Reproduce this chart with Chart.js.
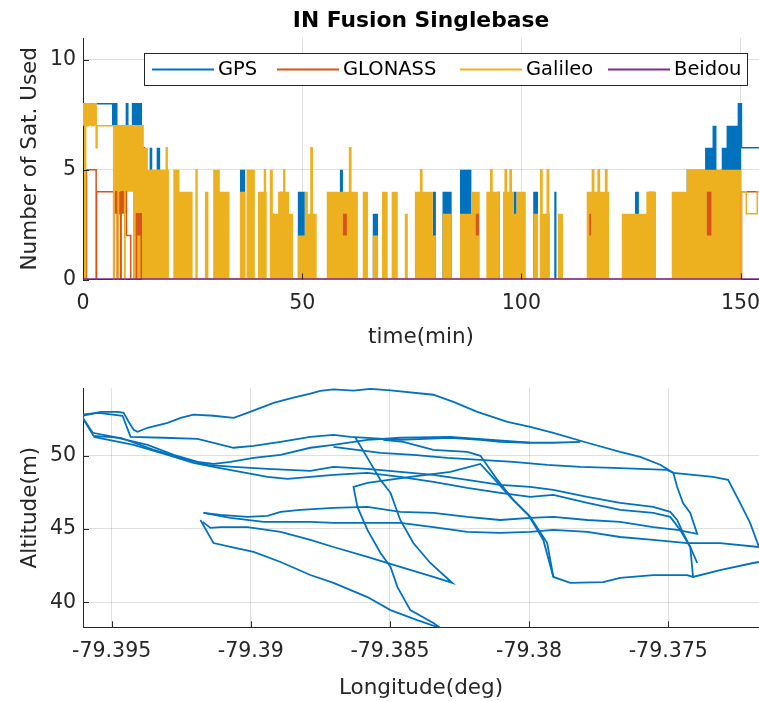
<!DOCTYPE html>
<html><head><meta charset="utf-8">
<script src="https://cdn.jsdelivr.net/npm/chart.js@4.4.1/dist/chart.umd.min.js"></script>
<style>
html,body{margin:0;padding:0;background:#fff;}
#wrap{position:relative;width:759px;height:701px;overflow:hidden;background:#fff;}
canvas{position:absolute;left:0;}
#c1{top:0;} #c2{top:350px;}
</style></head><body>
<div id="wrap"><canvas id="c1" width="759" height="350"></canvas><canvas id="c2" width="759" height="351"></canvas></div>
<script>
// ---------- labels & ticks ----------
const chartTitle = 'IN Fusion Singlebase';
const systems = ['GPS', 'GLONASS', 'Galileo', 'Beidou'];
const sysColors = ['#0072BD', '#D95319', '#EDB120', '#7E2F8E'];
const timeTicks = [0, 50, 100, 150];
const satTicks = [0, 5, 10];
const lonTicks = [-79.395, -79.39, -79.385, -79.38, -79.375];
const lonTickLabels = ['-79.395', '-79.39', '-79.385', '-79.38', '-79.375'];
const altTicks = [40, 45, 50];

// ---------- top: satellites used (stairs change points, minutes) ----------
const gpsStepT = [0, 7.0, 7.3, 7.7, 8.9, 9.2, 9.9, 10.2, 11.3, 13.3, 13.6, 14.0, 14.3, 149.5, 150.2, 154.2];
const gpsStepV = [8, 7, 8, 7, 6, 7, 8, 7, 8, 5, 6, 5, 0, 8, 6, 6];
const gloStepT = [0, 0.8, 3.0, 3.1, 7.0, 7.1, 7.8, 7.9, 8.6, 8.7, 9.9, 10.9, 12.2, 13.3, 150.2, 154.2];
const gloStepV = [0, 5, 0, 4, 0, 4, 0, 3, 0, 4, 2, 0, 3, 0, 4, 4];
const galStepT = [0, 0.4, 0.6, 1.0, 1.3, 2.0, 2.4, 3.0, 3.2, 7.0, 7.1, 8.0, 8.1, 9.5, 9.6, 13.7, 19.0, 19.2, 25.8, 26.0, 41.4, 41.6, 45.8, 46.0, 52.0, 52.3, 60.8, 61.1, 77.0, 77.3, 93.0, 93.3, 96.3, 96.6, 97.4, 97.7, 104.4, 104.7, 105.9, 106.2, 116.2, 116.5, 117.5, 117.8, 119.2, 119.5, 150.2, 151.3, 153.8, 154.2];
const galStepV = [8, 0, 8, 7, 8, 7, 8, 6, 7, 0, 7, 0, 7, 0, 7, 0, 6, 0, 5, 0, 5, 0, 5, 0, 6, 0, 6, 0, 5, 0, 5, 0, 5, 0, 5, 0, 5, 0, 5, 0, 5, 0, 5, 0, 5, 0, 4, 3, 4, 4];
const bdsStepT = [0, 154.2];
const bdsStepV = [0, 0];

// dense switching periods (start, end, upper level, lower level)
const gpsBlkStart = [6.6, 9.9, 11.3, 15.2, 16.8, 35.8, 43.0, 45.0, 49.0, 58.6, 66.1, 79.8, 82.0, 86.0, 94.6, 98.3, 102.7, 107.5, 125.9, 129.0, 137.7, 141.9, 143.6, 145.7, 146.8, 149.5];
const gpsBlkEnd   = [7.6, 10.3, 13.3, 15.8, 17.6, 37.0, 43.6, 45.5, 50.6, 59.3, 67.3, 80.5, 84.1, 88.6, 95.1, 98.9, 103.8, 108.0, 126.8, 130.5, 141.9, 143.6, 144.5, 146.8, 149.5, 150.2];
const gpsBlkTop   = [8, 8, 8, 6, 6, 5, 3, 4, 4, 5, 3, 4, 4, 5, 4, 4, 4, 4, 4, 4, 5, 6, 7, 6, 7, 8];
const gpsBlkBase  = [7, 6, 7, 5, 5, 0, 0, 0, 0, 0, 0, 0, 0, 0, 0, 0, 0, 0, 0, 0, 0, 0, 0, 0, 0, 0];

const gloBlkStart = [7.0, 12.2, 59.3, 89.6, 115.5, 142.3];
const gloBlkEnd   = [9.9, 13.3, 60.2, 90.3, 115.9, 143.4];
const gloBlkTop   = [4, 3, 3, 3, 3, 4];
const gloBlkBase  = [3, 2, 2, 2, 2, 2];

const galBlkStart = [0.0, 7.2, 11.4, 13.7, 14.8, 20.6, 22.0, 27.8, 29.7, 31.2, 35.8, 37.3, 39.9, 42.6, 43.3, 44.5, 47.0, 49.0, 50.6, 51.3, 55.6, 63.8, 66.1, 68.2, 70.4, 73.4, 75.7, 79.8, 82.0, 86.0, 88.6, 92.0, 95.8, 98.3, 98.9, 102.7, 104.2, 108.3, 114.9, 122.9, 128.5, 134.3, 137.7];
const galBlkEnd   = [3.1, 11.4, 13.7, 14.8, 19.6, 22.0, 25.0, 28.6, 31.2, 33.4, 37.0, 39.2, 41.9, 43.3, 44.5, 47.0, 47.9, 50.6, 51.3, 53.3, 62.7, 65.0, 67.3, 69.5, 71.8, 74.1, 79.8, 80.5, 84.1, 88.6, 90.5, 95.1, 98.3, 98.9, 101.0, 103.8, 106.5, 109.5, 120.0, 128.5, 130.7, 137.7, 150.2];
const galBlkTop   = [8, 7, 7, 6, 5, 5, 4, 4, 5, 4, 4, 5, 4, 5, 3, 4, 3, 2, 4, 3, 4, 4, 2, 4, 4, 3, 4, 2, 3, 3, 4, 4, 4, 3, 4, 3, 3, 3, 4, 3, 4, 4, 5];
const galBlkBase  = [7, 4, 0, 0, 0, 0, 0, 0, 0, 0, 0, 0, 0, 0, 0, 0, 0, 0, 0, 0, 0, 0, 0, 0, 0, 0, 0, 0, 0, 0, 0, 0, 0, 0, 0, 0, 0, 0, 0, 0, 0, 0, 0];

// ---------- bottom: trajectory strokes (longitude deg, altitude m) ----------
const lonA = [-79.39601, -79.39540, -79.39478, -79.39457, -79.39439, -79.39421, -79.39407, -79.39371, -79.39299, -79.39252, -79.39206, -79.39134, -79.39062, -79.39012, -79.38918, -79.38847, -79.38786, -79.38750, -79.38703, -79.38631, -79.38570, -79.38498, -79.38344, -79.38272, -79.38186, -79.38078, -79.37996, -79.37913, -79.37791, -79.37673, -79.37601, -79.37529, -79.37482, -79.37468, -79.37447, -79.37421, -79.37396, -79.37468, -79.37554, -79.37673, -79.37791, -79.37913, -79.37996, -79.38104, -79.38222, -79.38344, -79.38463, -79.38581, -79.38703, -79.38822, -79.38893, -79.38940, -79.39012, -79.39109, -79.39170];
const altA = [52.71, 52.98, 52.98, 52.91, 52.30, 51.75, 51.62, 51.89, 52.23, 52.57, 52.78, 52.71, 52.57, 52.91, 53.59, 53.94, 54.22, 54.40, 54.50, 54.42, 54.54, 54.44, 54.14, 53.66, 52.98, 52.30, 51.96, 51.55, 50.87, 50.25, 49.91, 49.37, 48.82, 47.86, 46.77, 46.09, 44.66, 44.93, 45.13, 45.48, 45.61, 45.82, 45.75, 45.61, 45.82, 46.09, 46.16, 46.50, 46.43, 46.30, 46.16, 45.89, 45.82, 45.96, 46.09];
const lonB = [-79.39170, -79.39073, -79.38954, -79.38786, -79.38703, -79.38581, -79.38463, -79.38344, -79.38222, -79.38104, -79.37996, -79.37913, -79.37791, -79.37673, -79.37554, -79.37432, -79.37314, -79.37174];
const altB = [46.09, 45.75, 45.48, 45.48, 45.41, 45.41, 45.41, 45.13, 44.80, 44.73, 44.80, 44.93, 44.80, 44.45, 44.25, 44.04, 44.04, 43.77];
const lonC = [-79.39173, -79.39145, -79.39109, -79.39012, -79.38893, -79.38786, -79.38703, -79.38581, -79.38463, -79.38344, -79.38276, -79.38355, -79.38416, -79.38463, -79.38498, -79.38534, -79.38581, -79.38624];
const altC = [45.48, 45.07, 45.13, 45.13, 44.80, 44.25, 43.77, 43.09, 42.41, 41.73, 41.32, 42.68, 44.04, 45.61, 47.46, 48.34, 49.84, 51.21];
const lonD = [-79.39181, -79.39155, -79.39134, -79.39073, -79.38990, -79.38893, -79.38786, -79.38703, -79.38581, -79.38498, -79.38402, -79.38319];
const altD = [45.61, 44.73, 44.04, 43.77, 43.43, 42.75, 41.86, 41.32, 40.36, 39.47, 38.79, 38.25];
const lonE = [-79.38319, -79.38344, -79.38427, -79.38473, -79.38498, -79.38534, -79.38581, -79.38617, -79.38631, -79.38581, -79.38427, -79.38283, -79.38175, -79.38129, -79.38068, -79.38003, -79.37949, -79.37913, -79.37852, -79.37734, -79.37673, -79.37554, -79.37432, -79.37411, -79.37314, -79.37195, -79.37174];
const altE = [38.25, 38.59, 39.47, 41.04, 42.41, 43.36, 44.93, 46.50, 47.86, 48.14, 48.55, 48.89, 49.43, 48.48, 47.18, 45.96, 44.25, 41.73, 41.32, 41.38, 41.66, 41.86, 41.86, 41.73, 42.20, 42.68, 42.75];
const lonF = [-79.39611, -79.39547, -79.39461, -79.39432, -79.39313, -79.39191, -79.39062, -79.38990, -79.38893, -79.38786, -79.38703, -79.38642, -79.38463, -79.38283, -79.38175, -79.38104, -79.37996, -79.37913, -79.37816];
const altF = [52.78, 52.91, 52.71, 51.27, 51.21, 51.14, 50.53, 50.66, 50.93, 51.27, 51.41, 51.27, 51.07, 51.21, 51.07, 50.93, 50.87, 50.87, 50.93];
const lonG = [-79.38524, -79.38452, -79.38344, -79.38222, -79.38175, -79.38114, -79.38057, -79.37996, -79.37935, -79.37913];
const altG = [51.07, 50.93, 50.39, 50.25, 49.98, 48.34, 46.98, 45.82, 44.04, 41.73];
const lonH = [-79.39611, -79.39565, -79.39468, -79.39349, -79.39252, -79.39155, -79.39062, -79.38940, -79.38786, -79.38703, -79.38581, -79.38463, -79.38344, -79.38222, -79.38104, -79.37996, -79.37913, -79.37791, -79.37673, -79.37554, -79.37493, -79.37468, -79.37447, -79.37421, -79.37411];
const altH = [52.78, 51.34, 51.21, 50.39, 49.84, 49.37, 49.23, 49.09, 48.96, 49.23, 49.09, 48.89, 48.68, 48.34, 48.00, 47.86, 47.66, 47.18, 46.77, 46.50, 46.16, 45.61, 44.73, 43.77, 41.73];
const lonI = [-79.39565, -79.39421, -79.39299, -79.39206, -79.39134, -79.39037, -79.38940, -79.38868, -79.38786, -79.38703, -79.38581, -79.38463, -79.38344, -79.38222, -79.38104, -79.37996, -79.37913, -79.37791, -79.37673, -79.37554, -79.37493, -79.37457, -79.37421, -79.37396];
const altI = [51.27, 50.73, 50.05, 49.50, 49.23, 48.89, 48.55, 48.41, 48.55, 48.68, 48.82, 48.55, 48.21, 47.80, 47.46, 47.18, 47.32, 46.77, 46.30, 46.09, 45.82, 44.93, 43.77, 42.68];
const lonJ = [-79.39611, -79.39568, -79.39493, -79.39371, -79.39277, -79.39191, -79.39134, -79.39073, -79.38990, -79.38893, -79.38786, -79.38703, -79.38581, -79.38463, -79.38283, -79.37996];
const altJ = [52.78, 51.55, 51.27, 50.73, 50.05, 49.57, 49.43, 49.57, 49.84, 50.05, 50.53, 50.73, 51.07, 51.21, 51.27, 50.87];
const lonK = [-79.38703, -79.38534, -79.38416, -79.38294, -79.38175, -79.38057, -79.37935, -79.37816, -79.37698, -79.37504, -79.37482, -79.37339, -79.37285, -79.37242, -79.37206, -79.37174];
const altK = [50.59, 50.18, 50.05, 49.84, 49.71, 49.57, 49.37, 49.23, 49.16, 49.02, 48.82, 48.55, 48.34, 46.77, 45.41, 43.77];

// ---------- helpers ----------
const FONT = 'DejaVu Sans';
const INK = '#262626';
const GRID = 'rgba(38,38,38,0.15)';
const stairs = (ts, vs) => ts.map((t, i) => ({x: t, y: vs[i]}));
function blockPts(starts, ends, levels) {
  const pts = [];
  starts.forEach((s, i) => { pts.push({x: s, y: levels[i]}); pts.push({x: ends[i], y: 0}); });
  return pts;
}
const zip = (xs, ys) => xs.map((x, i) => ({x: x, y: ys[i]}));

const decoPlugin = {
  id: 'deco',
  afterDraw(chart, args, opts) {
    const {ctx, chartArea: a, scales} = chart;
    ctx.save();
    ctx.strokeStyle = INK; ctx.lineWidth = 1;
    scales.x.ticks.forEach(t => {
      const p = Math.round(scales.x.getPixelForValue(t.value)) + 0.5;
      ctx.beginPath(); ctx.moveTo(p, a.bottom); ctx.lineTo(p, a.bottom - 6); ctx.stroke();
    });
    scales.y.ticks.forEach(t => {
      const p = Math.round(scales.y.getPixelForValue(t.value)) + 0.5;
      ctx.beginPath(); ctx.moveTo(a.left, p); ctx.lineTo(a.left + 6, p); ctx.stroke();
    });
    if (opts.title) {
      ctx.fillStyle = '#000';
      ctx.font = 'bold 21.8px "' + FONT + '"';
      ctx.textAlign = 'center'; ctx.textBaseline = 'middle';
      ctx.fillText(opts.title, (a.left + a.right) / 2, 21);
    }
    if (opts.legend) {
      const l = 144, t = 53, r = 748, b = 86;
      ctx.fillStyle = '#fff'; ctx.fillRect(l, t, r - l, b - t);
      ctx.strokeStyle = INK; ctx.lineWidth = 1;
      ctx.strokeRect(l + 0.5, t + 0.5, r - l - 1, b - t - 1);
      const starts = [152, 277, 460, 608];
      const cy = 69.5;
      ctx.font = '19.5px "' + FONT + '"';
      ctx.textAlign = 'left'; ctx.textBaseline = 'middle';
      systems.forEach((name, i) => {
        ctx.strokeStyle = sysColors[i]; ctx.lineWidth = 2;
        ctx.beginPath(); ctx.moveTo(starts[i], cy); ctx.lineTo(starts[i] + 62, cy); ctx.stroke();
        ctx.fillStyle = '#000'; ctx.fillText(name, starts[i] + 66, cy);
      });
    }
    ctx.restore();
  }
};

function axisOpts(ticksArr, labelsArr, title, isX, titlePad, extra) {
  return Object.assign({
    type: 'linear',
    afterBuildTicks: s => { s.ticks = ticksArr.map(v => ({value: v})); },
    grid: {color: GRID, lineWidth: 1, drawTicks: false},
    border: {display: true, color: INK, width: 1},
    ticks: {
      color: INK, font: {family: FONT, size: 20.5}, padding: isX ? 12 : 7,
      maxRotation: 0, autoSkip: false,
      callback: (v, i) => labelsArr[i]
    },
    title: {display: true, text: title, color: INK, font: {family: FONT, size: 21.5}, padding: titlePad}
  }, extra);
}

// ---------- top chart ----------
const stepBase = {stepped: true, pointRadius: 0, pointHoverRadius: 0, tension: 0, spanGaps: false};
const topData = {datasets: [
  Object.assign({label: 'GPS dense', data: blockPts(gpsBlkStart, gpsBlkEnd, gpsBlkTop), borderWidth: 0, backgroundColor: sysColors[0], fill: '+1', order: 9}, stepBase),
  Object.assign({label: 'GPS dense base', data: blockPts(gpsBlkStart, gpsBlkEnd, gpsBlkBase), borderWidth: 0, fill: false, order: 9}, stepBase),
  Object.assign({label: systems[0], data: stairs(gpsStepT, gpsStepV), borderColor: sysColors[0], borderWidth: 1.5, fill: false, order: 8}, stepBase),
  Object.assign({label: 'Galileo dense', data: blockPts(galBlkStart, galBlkEnd, galBlkTop), borderWidth: 0, backgroundColor: sysColors[2], fill: '+1', order: 7}, stepBase),
  Object.assign({label: 'Galileo dense base', data: blockPts(galBlkStart, galBlkEnd, galBlkBase), borderWidth: 0, fill: false, order: 7}, stepBase),
  Object.assign({label: 'GLONASS dense', data: blockPts(gloBlkStart, gloBlkEnd, gloBlkTop), borderWidth: 0, backgroundColor: sysColors[1], fill: '+1', order: 6}, stepBase),
  Object.assign({label: 'GLONASS dense base', data: blockPts(gloBlkStart, gloBlkEnd, gloBlkBase), borderWidth: 0, fill: false, order: 6}, stepBase),
  Object.assign({label: systems[1], data: stairs(gloStepT, gloStepV), borderColor: sysColors[1], borderWidth: 1.5, fill: false, order: 5}, stepBase),
  Object.assign({label: systems[2], data: stairs(galStepT, galStepV), borderColor: sysColors[2], borderWidth: 1.5, fill: false, order: 4}, stepBase),
  Object.assign({label: systems[3], data: stairs(bdsStepT, bdsStepV), borderColor: sysColors[3], borderWidth: 2.5, fill: false, order: 3}, stepBase)
]};

new Chart(document.getElementById('c1'), {
  type: 'line',
  data: topData,
  plugins: [decoPlugin],
  options: {
    responsive: false, animation: false, devicePixelRatio: 1,
    layout: {padding: {top: 38, left: 0, right: 0, bottom: 0}},
    plugins: {legend: {display: false}, tooltip: {enabled: false}, deco: {title: chartTitle, legend: true}},
    scales: {
      x: axisOpts(timeTicks, timeTicks.map(String), 'time(min)', true, {top: 0, bottom: 0}, {
        min: 0, max: 154.2,
        afterFit: s => { s.height = 70.5; s.paddingLeft = 0; s.paddingRight = 0; }
      }),
      y: axisOpts(satTicks, satTicks.map(String), 'Number of Sat. Used', false, {top: 18, bottom: 0}, {
        min: 0, max: 11,
        afterFit: s => { s.width = 83; s.paddingTop = 0; s.paddingBottom = 0; }
      })
    }
  }
});

// ---------- bottom chart ----------
const tracks = [[lonA, altA], [lonB, altB], [lonC, altC], [lonD, altD], [lonE, altE], [lonF, altF], [lonG, altG], [lonH, altH], [lonI, altI], [lonJ, altJ], [lonK, altK]];
new Chart(document.getElementById('c2'), {
  type: 'scatter',
  data: {datasets: tracks.map((tr, i) => ({
    label: 'track' + i, data: zip(tr[0], tr[1]), showLine: true,
    borderColor: '#0072BD', borderWidth: 1.8, pointRadius: 0, pointHoverRadius: 0, tension: 0, fill: false
  }))},
  plugins: [decoPlugin],
  options: {
    responsive: false, animation: false, devicePixelRatio: 1,
    layout: {padding: {top: 38, left: 0, right: 0, bottom: 0}},
    plugins: {legend: {display: false}, tooltip: {enabled: false}, deco: {}},
    scales: {
      x: axisOpts(lonTicks, lonTickLabels, 'Longitude(deg)', true, {top: 0, bottom: 0}, {
        min: -79.39603, max: -79.37174,
        afterFit: s => { s.height = 73.7; s.paddingLeft = 0; s.paddingRight = 0; }
      }),
      y: axisOpts(altTicks, altTicks.map(String), 'Altitude(m)', false, {top: 18, bottom: 0}, {
        min: 38.3, max: 54.6,
        afterFit: s => { s.width = 83; s.paddingTop = 0; s.paddingBottom = 0; }
      })
    }
  }
});
</script>
</body></html>
